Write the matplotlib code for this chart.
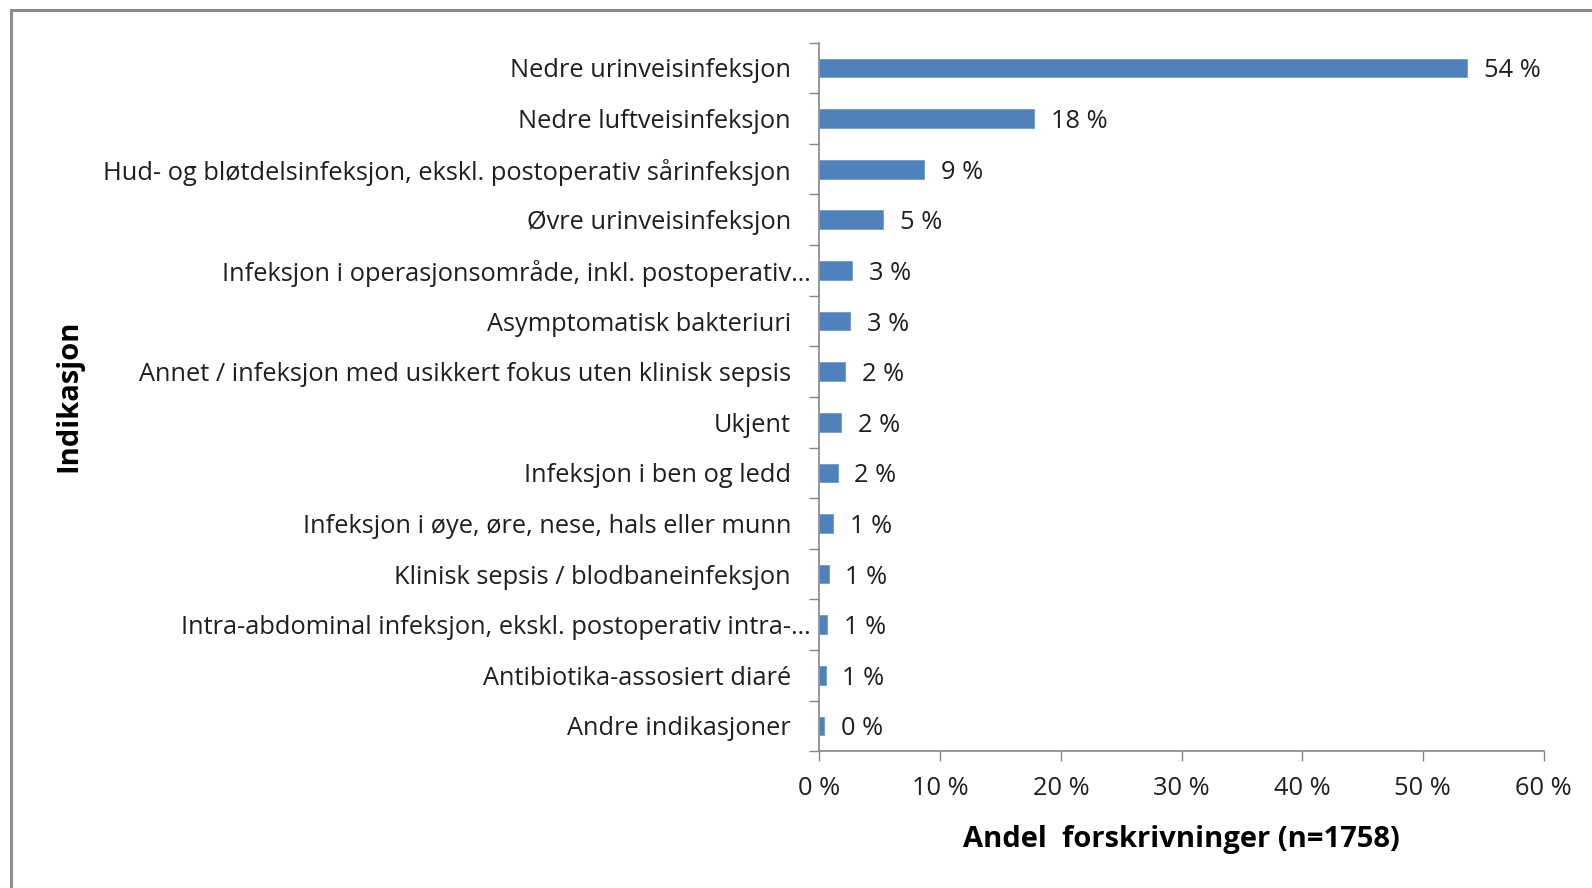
import matplotlib
matplotlib.use("Agg")
import matplotlib.pyplot as plt
from matplotlib.patches import Rectangle
import numpy as np

categories = [
    "Nedre urinveisinfeksjon",
    "Nedre luftveisinfeksjon",
    "Hud- og bløtdelsinfeksjon, ekskl. postoperativ sårinfeksjon",
    "Øvre urinveisinfeksjon",
    "Infeksjon i operasjonsområde, inkl. postoperativ…",
    "Asymptomatisk bakteriuri",
    "Annet / infeksjon med usikkert fokus uten klinisk sepsis",
    "Ukjent",
    "Infeksjon i ben og ledd",
    "Infeksjon i øye, øre, nese, hals eller munn",
    "Klinisk sepsis / blodbaneinfeksjon",
    "Intra-abdominal infeksjon, ekskl. postoperativ intra-…",
    "Antibiotika-assosiert diaré",
    "Andre indikasjoner",
]
values = [53.7, 17.8, 8.7, 5.3, 2.7, 2.55, 2.15, 1.8, 1.5, 1.15, 0.77, 0.64, 0.52, 0.41]
value_labels = ["54 %", "18 %", "9 %", "5 %", "3 %", "3 %", "2 %", "2 %", "2 %",
                "1 %", "1 %", "1 %", "1 %", "0 %"]
xticks = [0, 10, 20, 30, 40, 50, 60]
xtick_labels = ["0 %", "10 %", "20 %", "30 %", "40 %", "50 %", "60 %"]
xlabel = "Andel  forskrivninger (n=1758)"
ylabel = "Indikasjon"

plt.rcParams['font.family'] = ['Open Sans', 'DejaVu Sans']
W, H = 1592, 888
fig = plt.figure(figsize=(W / 100, H / 100), dpi=100)
fig.patch.set_facecolor("white")

fig.patches.append(Rectangle((10.5 / W, -0.2), 1.5, 1.2 - 10.5 / H,
                             transform=fig.transFigure, fill=False,
                             edgecolor="#8c8c8c", linewidth=2.2, zorder=0))

ax = fig.add_axes([819.5 / W, 1 - 751.3 / H, (1543.5 - 819.5) / W, (751.3 - 42.6) / H])
n = len(categories)
y = np.arange(n)
ax.barh(y, values, height=0.37, color="#4F81BD", edgecolor="#6f9bd0", linewidth=0.6, zorder=3)
ax.set_ylim(n - 0.5, -0.5)
ax.set_xlim(0, 60)

TXT = 18.3
for yi, v, lab in zip(y, values, value_labels):
    ax.annotate(lab, (v, yi), xytext=(12, 0), textcoords="offset points",
                ha="left", va="center_baseline", fontsize=TXT, color="#1f1f1f")

# category labels (truncated ones overflow a little to the right, as in the original)
ax.set_yticks(y)
ax.set_yticklabels([""] * n)
for yi, cat in zip(y, categories):
    off = -6 if cat.endswith("…") else -20.5
    ax.annotate(cat, (0, yi), xycoords=("axes fraction", "data"),
                xytext=(off, 0), textcoords="offset points",
                ha="right", va="center_baseline", fontsize=TXT, color="#1f1f1f",
                annotation_clip=False)
ax.set_yticks(np.arange(-0.5, n + 0.5, 1), minor=True)
ax.tick_params(axis="y", which="major", length=0)
ax.tick_params(axis="y", which="minor", length=7, width=1, color="#868686", direction="out")
ax.set_xticks(xticks)
ax.set_xticklabels(xtick_labels, fontsize=TXT, color="#1f1f1f")
ax.tick_params(axis="x", length=7, width=1, color="#868686", direction="out", pad=11)

for s in ["top", "right"]:
    ax.spines[s].set_visible(False)
for s in ["left", "bottom"]:
    ax.spines[s].set_color("#868686")
    ax.spines[s].set_linewidth(1.2)

ax.set_xlabel(xlabel, fontsize=21, fontweight="bold", labelpad=17)
fig.text(69 / W, 1 - 396 / H, ylabel, rotation=90, ha="center", va="center",
         fontsize=21, fontweight="bold")

fig.savefig("out.png", dpi=100, facecolor="white")
